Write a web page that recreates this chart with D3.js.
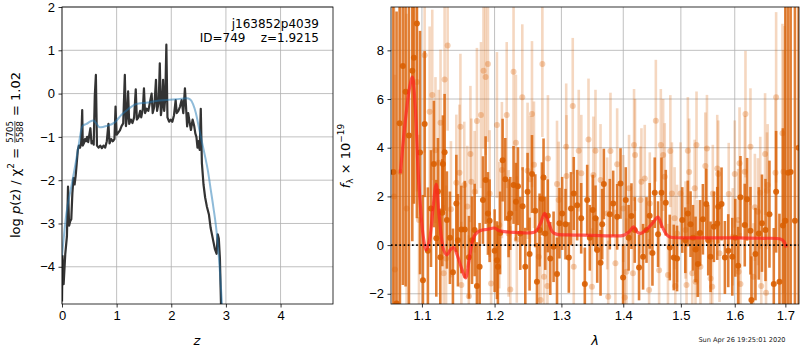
<!DOCTYPE html>
<meta charset="utf-8">
<style>
    body { margin: 0; background: #fff; }
    svg { font-family: "DejaVu Sans", sans-serif; }
    .grid line { stroke: #b0b0b0; stroke-width: 0.8; }
    .axis path { display: none; }
    .axis line { stroke: #000; stroke-width: 0.8; }
    .axis text { font-size: 13px; fill: #000; }
</style>
<title>p(z) and spectrum</title>
<body>
<script src="https://cdn.jsdelivr.net/npm/d3@7"></script>
<script>
// ---- data ----
const zTicks = [0, 1, 2, 3, 4];
const pzTicks = [-4, -3, -2, -1, 0, 1, 2];
const waveTicks = [1.1, 1.2, 1.3, 1.4, 1.5, 1.6, 1.7];
const fluxTicks = [-2, 0, 2, 4, 6, 8];

// log p(z), noisy fit  [z, log p]
const pzFit = [[0.00,-4.80],[0.01,-3.75],[0.03,-4.40],[0.06,-3.70],[0.09,-3.30],[0.11,-2.15],[0.13,-3.05],[0.15,-2.95],[0.17,-2.90],[0.19,-2.30],[0.21,-1.95],[0.23,-2.10],[0.25,-1.90],[0.27,-1.60],[0.29,-1.30],[0.31,-1.20],[0.33,-1.25],[0.35,-1.15],[0.37,-0.38],[0.38,-1.20],[0.40,-1.15],[0.42,-1.05],[0.44,-1.10],[0.46,-1.00],[0.48,-1.12],[0.50,-0.95],[0.52,-0.80],[0.54,-1.15],[0.56,-1.10],[0.58,-1.18],[0.60,-0.05],[0.62,0.43],[0.64,-1.20],[0.67,-1.25],[0.70,-1.20],[0.73,-1.26],[0.76,-1.20],[0.79,-1.25],[0.82,-1.10],[0.85,-0.70],[0.87,-1.15],[0.90,-1.05],[0.93,-1.10],[0.96,-1.05],[0.98,-0.30],[1.00,-0.95],[1.03,-0.90],[1.06,-0.85],[1.09,-0.75],[1.12,-0.69],[1.15,0.43],[1.17,-0.75],[1.19,-0.55],[1.21,0.05],[1.23,-0.70],[1.26,-0.60],[1.29,-0.68],[1.32,-0.55],[1.35,0.10],[1.37,-0.60],[1.40,-0.55],[1.43,-0.40],[1.45,-0.55],[1.48,-0.35],[1.50,0.12],[1.52,-0.45],[1.55,-0.35],[1.58,-0.40],[1.61,-0.20],[1.64,0.00],[1.66,-0.45],[1.69,-0.30],[1.72,0.32],[1.74,-0.40],[1.77,-0.20],[1.79,0.70],[1.81,-0.50],[1.83,-0.30],[1.85,0.32],[1.87,-0.40],[1.89,-0.10],[1.91,1.13],[1.93,-0.55],[1.96,-0.65],[1.99,-0.60],[2.02,-0.65],[2.05,-0.50],[2.08,-0.15],[2.10,-0.45],[2.13,-0.40],[2.16,-0.30],[2.19,-0.15],[2.22,-0.45],[2.25,0.12],[2.27,-0.30],[2.29,-0.76],[2.31,-0.45],[2.34,-0.70],[2.36,-0.84],[2.39,-0.60],[2.42,-0.75],[2.44,-0.92],[2.46,-1.00],[2.48,-1.25],[2.50,-1.10],[2.52,-1.30],[2.54,-0.35],[2.56,-1.60],[2.59,-2.10],[2.62,-2.40],[2.65,-2.60],[2.69,-2.80],[2.72,-3.10],[2.76,-3.35],[2.80,-3.60],[2.83,-3.70],[2.85,-3.25],[2.87,-3.35],[2.89,-3.80],[2.91,-4.86],[2.93,-6.00]];

// smooth p(z) (light blue)  [z, log p]
const pzPrior = [[0.00,-3.75],[0.08,-2.77],[0.17,-2.15],[0.26,-1.53],[0.31,-1.15],[0.35,-0.85],[0.38,-0.74],[0.45,-0.70],[0.51,-0.65],[0.57,-0.62],[0.63,-0.69],[0.69,-0.78],[0.75,-0.77],[0.81,-0.75],[0.96,-0.67],[1.09,-0.49],[1.21,-0.36],[1.36,-0.24],[1.54,-0.21],[1.73,-0.17],[1.91,-0.15],[2.09,-0.13],[2.28,-0.11],[2.35,-0.14],[2.40,-0.25],[2.45,-0.45],[2.50,-0.75],[2.55,-1.05],[2.61,-1.40],[2.67,-1.78],[2.72,-2.20],[2.77,-2.62],[2.83,-3.20],[2.89,-4.10],[2.93,-4.90]];

// spectrum, first set (solid)  [lambda, flux, err]
const darkPoints = [[1.0630,3.0,14],[1.0671,-2.4,12],[1.0710,5.0,10],[1.0752,7.36,9],[1.0787,6.3,8],[1.0830,4.5,9],[1.0874,7.16,7],[1.0895,7.7,6],[1.0934,9.1,8],[1.0975,3.8,5],[1.1013,-1.44,3.5],[1.1036,4.97,3.0],[1.1079,-0.23,2.6],[1.1120,1.5,2.4],[1.1159,3.33,2.6],[1.1191,0.28,2.4],[1.1213,2.2,2.2],[1.1245,-0.5,2.0],[1.1272,1.33,2.2],[1.1280,3.33,2.0],[1.1303,3.81,2.4],[1.1334,1.03,2.0],[1.1375,0.3,1.9],[1.1416,-1.12,1.8],[1.1463,1.71,2.0],[1.1485,0.2,1.9],[1.1532,0.64,1.8],[1.1580,0.64,2.0],[1.1637,-0.5,1.7],[1.1680,0.2,1.8],[1.1717,0.62,1.9],[1.1749,-1.68,1.8],[1.1787,-0.89,1.8],[1.1834,1.85,1.8],[1.1872,2.67,1.8],[1.1905,1.3,1.7],[1.1929,1.0,1.7],[1.2001,-0.23,1.7],[1.2034,-0.62,1.6],[1.2048,-0.89,1.7],[1.2080,0.5,1.7],[1.2116,3.49,1.7],[1.2155,2.7,1.7],[1.2203,1.1,1.6],[1.2228,1.3,1.5],[1.2276,2.47,1.6],[1.2311,1.78,1.6],[1.2341,2.42,1.6],[1.2375,0.48,1.5],[1.2410,1.6,1.6],[1.2450,-0.89,1.6],[1.2484,2.19,1.6],[1.2514,-0.37,1.5],[1.2550,2.92,1.6],[1.2600,1.41,1.5],[1.2625,-1.51,1.6],[1.2665,0.62,1.5],[1.2700,1.9,1.5],[1.2725,2.78,1.6],[1.2751,0.48,1.5],[1.2790,1.2,1.5],[1.2828,-0.55,1.5],[1.2879,-0.07,1.45],[1.2932,-1.19,1.5],[1.2970,0.9,1.45],[1.3012,1.3,1.5],[1.3064,0.86,1.45],[1.3116,-0.51,1.45],[1.3150,1.5,1.5],[1.3194,2.12,1.5],[1.3248,1.64,1.45],[1.3312,1.1,1.45],[1.3370,-1.6,1.5],[1.3408,1.85,1.45],[1.3450,0.3,1.35],[1.3498,1.44,1.45],[1.3542,1.1,1.35],[1.3570,-0.2,1.35],[1.3624,-0.73,1.35],[1.3651,0.86,1.45],[1.3678,2.51,1.45],[1.3776,1.27,1.45],[1.3832,1.71,1.35],[1.3898,1.16,1.35],[1.3954,2.53,1.45],[1.3997,-1.33,1.35],[1.4042,1.85,1.35],[1.4090,0.3,1.35],[1.4138,1.19,1.35],[1.4194,0.62,1.35],[1.4267,-0.92,1.35],[1.4336,-0.48,1.35],[1.4395,0.62,1.35],[1.4450,1.2,1.35],[1.4498,-0.32,1.35],[1.4538,2.15,1.45],[1.4596,0.45,1.35],[1.4656,2.15,1.45],[1.4731,1.74,1.35],[1.4802,-0.1,1.35],[1.4873,-0.51,1.35],[1.4932,-0.55,1.35],[1.5025,1.03,1.35],[1.5080,0.2,1.35],[1.5126,1.3,1.35],[1.5175,0.86,1.35],[1.5220,0.3,1.35],[1.5266,-0.18,1.35],[1.5309,-0.78,1.35],[1.5350,0.5,1.35],[1.5401,1.06,1.45],[1.5463,1.69,1.45],[1.5500,0.2,1.45],[1.5543,-0.48,1.45],[1.5605,0.75,1.45],[1.5668,0.89,1.5],[1.5687,1.57,1.5],[1.5749,1.69,1.5],[1.5812,-0.51,1.5],[1.5876,-0.23,1.5],[1.5953,-0.48,1.6],[1.6010,0.3,1.6],[1.6065,-0.85,1.6],[1.6110,1.96,1.7],[1.6193,0.82,1.7],[1.6239,1.88,1.7],[1.6304,0.59,1.8],[1.6323,-2.26,1.8],[1.6402,-0.37,1.9],[1.6467,0.48,1.9],[1.6530,0.9,2.0],[1.6600,0.62,2.1],[1.6679,1.27,2.2],[1.6766,-1.6,2.3],[1.6813,2.19,2.5],[1.6880,-1.51,2.8],[1.6950,0.8,4],[1.7000,1.0,9],[1.7055,2.97,14],[1.7108,3.0,20],[1.7196,1.0,20],[1.7272,4.0,20]];

// spectrum, second set (faint)  [lambda, flux, err]
const lightPoints = [[1.0640,2.0,9],[1.0650,-1.0,8],[1.0720,3.0,9],[1.0800,1.5,8],[1.0934,6.7,4.5],[1.0961,1.03,3.5],[1.1036,7.8,4.0],[1.1102,5.48,3.5],[1.1137,6.17,3.5],[1.1180,3.9,3.0],[1.1222,3.38,3.0],[1.1248,5.03,3.0],[1.1290,-1.16,2.8],[1.1303,6.8,3.2],[1.1323,-0.55,3.0],[1.1344,8.2,3.5],[1.1389,1.47,2.8],[1.1463,2.56,2.8],[1.1506,2.97,2.8],[1.1519,4.86,3.0],[1.1532,-1.64,2.6],[1.1572,2.47,2.6],[1.1614,1.58,2.5],[1.1636,-2.1,2.5],[1.1658,3.74,2.8],[1.1671,2.6,2.6],[1.1717,2.19,2.5],[1.1749,5.1,3.0],[1.1806,5.34,3.0],[1.1842,7.16,3.2],[1.1872,6.9,3.2],[1.1905,7.44,3.2],[1.1929,2.12,2.6],[1.1950,-1.58,2.6],[1.2034,4.93,3.0],[1.2068,0.82,2.6],[1.2106,3.08,2.8],[1.2176,5.34,3.0],[1.2203,0.48,2.6],[1.2228,-1.82,2.6],[1.2276,7.12,3.2],[1.2311,4.2,2.8],[1.2324,0.23,2.6],[1.2405,6.07,3.0],[1.2484,3.05,2.8],[1.2522,2.7,2.6],[1.2550,5.38,3.0],[1.2580,3.3,2.6],[1.2652,-0.48,2.5],[1.2680,-2.26,2.6],[1.2707,7.44,3.0],[1.2733,-1.3,2.5],[1.2784,-1.68,2.5],[1.2792,3.56,2.6],[1.2932,2.51,2.6],[1.2958,1.85,2.4],[1.3075,4.04,2.6],[1.3080,2.84,2.5],[1.3178,5.71,2.8],[1.3194,-0.89,2.5],[1.3273,3.88,2.5],[1.3314,2.95,2.4],[1.3429,4.34,2.5],[1.3484,-1.71,2.4],[1.3508,2.88,2.4],[1.3542,3.88,2.5],[1.3624,2.67,2.3],[1.3733,1.3,2.3],[1.3750,-2.12,2.3],[1.3787,3.86,2.4],[1.3869,-0.75,2.2],[1.3898,3.32,2.3],[1.4000,1.5,2.2],[1.4025,-2.15,2.2],[1.4053,-1.1,2.2],[1.4097,2.33,2.2],[1.4164,-1.16,2.2],[1.4182,4.11,2.3],[1.4199,3.7,2.3],[1.4291,1.85,2.2],[1.4308,2.6,2.2],[1.4365,2.74,2.2],[1.4440,-1.85,2.1],[1.4452,1.71,2.1],[1.4557,5.11,2.5],[1.4614,-1.03,2.1],[1.4644,4.11,2.3],[1.4685,3.7,2.3],[1.4713,2.81,2.2],[1.4770,-1.23,2.1],[1.4812,3.86,2.3],[1.4840,2.12,2.1],[1.4888,1.1,2.1],[1.4900,-1.68,2.1],[1.4932,0.48,2.0],[1.4994,2.12,2.1],[1.5084,0.62,2.0],[1.5102,-1.64,2.0],[1.5126,3.88,2.2],[1.5150,3.0,2.2],[1.5206,-1.16,2.0],[1.5250,2.33,2.0],[1.5266,-1.51,2.0],[1.5284,4.11,2.2],[1.5296,-0.14,2.0],[1.5356,-0.89,2.0],[1.5446,3.25,2.2],[1.5476,3.97,2.2],[1.5543,-1.37,2.0],[1.5574,-1.71,2.0],[1.5585,2.12,2.0],[1.5668,3.15,2.2],[1.5687,2.92,2.2],[1.5711,-0.34,2.0],[1.5885,2.1,2.1],[1.5962,0.34,2.0],[1.6000,2.92,2.2],[1.6065,1.03,2.1],[1.6075,-1.1,2.1],[1.6092,3.36,2.3],[1.6110,-1.6,2.1],[1.6193,3.01,2.3],[1.6207,5.38,2.6],[1.6304,4.04,2.4],[1.6361,-1.3,2.2],[1.6390,1.55,2.2],[1.6450,1.37,2.2],[1.6496,2.15,2.3],[1.6516,-1.68,2.3],[1.6592,3.74,2.5],[1.6611,-1.96,2.4],[1.6630,2.23,2.4],[1.6643,2.47,2.5],[1.6800,2.97,3.0],[1.6813,6.07,3.5],[1.6941,4.59,4.5],[1.6960,3.01,5],[1.6985,1.0,8]];

// best-fit model  [lambda, flux]
const modelLine = [[1.0720,2.95],[1.0780,5.0],[1.0840,6.5],[1.0875,6.9],[1.0910,5.8],[1.0960,2.5],[1.1020,0.3],[1.1058,-0.2],[1.1100,0.2],[1.1150,1.6],[1.1190,2.5],[1.1230,1.2],[1.1290,-0.2],[1.1334,-0.4],[1.1380,-0.2],[1.1426,-0.1],[1.1480,-0.45],[1.1540,-1.0],[1.1590,-1.35],[1.1640,-0.6],[1.1690,0.2],[1.1730,0.45],[1.1800,0.6],[1.1900,0.65],[1.2000,0.7],[1.2060,0.6],[1.2150,0.55],[1.2300,0.52],[1.2500,0.5],[1.2600,0.55],[1.2680,0.9],[1.2742,1.3],[1.2800,0.95],[1.2860,0.55],[1.2920,0.45],[1.3100,0.42],[1.3500,0.4],[1.3800,0.38],[1.4000,0.4],[1.4100,0.55],[1.4175,0.75],[1.4230,0.55],[1.4290,0.48],[1.4400,0.65],[1.4500,0.9],[1.4595,1.15],[1.4660,0.8],[1.4740,0.45],[1.4800,0.33],[1.5000,0.3],[1.5500,0.3],[1.6000,0.3],[1.6500,0.28],[1.6900,0.25],[1.6970,0.15],[1.7020,-0.1]];

const objName = 'j163852p4039';
const objInfo = 'ID=749    z=1.9215';
const stamp = 'Sun Apr 26 19:25:01 2020';

// ---- drawing ----
const width = 800, height = 350;
const orange = '#d95f02';

const svg = d3.select('body').append('svg')
    .attr('width', width)
    .attr('height', height);

function grid(box, xs, ys, xt, yt) {
    const g = svg.append('g').attr('class', 'grid');
    g.selectAll('.gx').data(xt).enter().append('line')
        .attr('x1', d => xs(d)).attr('x2', d => xs(d))
        .attr('y1', box.top).attr('y2', box.bottom);
    g.selectAll('.gy').data(yt).enter().append('line')
        .attr('x1', box.left).attr('x2', box.right)
        .attr('y1', d => ys(d)).attr('y2', d => ys(d));
}

function axes(box, xs, ys, xt, yt, xfmt) {
    svg.append('g').attr('class', 'axis')
        .attr('transform', `translate(0,${box.bottom})`)
        .call(d3.axisBottom(xs).tickValues(xt).tickFormat(xfmt).tickSize(3.5).tickPadding(3.5));
    svg.append('g').attr('class', 'axis')
        .attr('transform', `translate(${box.left},0)`)
        .call(d3.axisLeft(ys).tickValues(yt).tickFormat(d3.format('d')).tickSize(3.5).tickPadding(3.5));
    svg.append('rect')
        .attr('x', box.left).attr('y', box.top)
        .attr('width', box.right - box.left).attr('height', box.bottom - box.top)
        .attr('fill', 'none').attr('stroke', '#000').attr('stroke-width', 0.8);
}

function clip(id, box) {
    svg.append('clipPath').attr('id', id).append('rect')
        .attr('x', box.left).attr('y', box.top)
        .attr('width', box.right - box.left).attr('height', box.bottom - box.top);
}

// left panel: p(z)
const boxA = {left: 62, right: 333, top: 7, bottom: 304};
const xA = d3.scaleLinear().domain([0, 4.96]).range([boxA.left, boxA.right]);
const yA = d3.scaleLinear().domain([-4.86, 2]).range([boxA.bottom, boxA.top]);
grid(boxA, xA, yA, zTicks, pzTicks);
clip('clipA', boxA);

const plotA = svg.append('g').attr('clip-path', 'url(#clipA)');
plotA.append('path').datum(pzFit)
    .attr('d', d3.line().x(d => xA(d[0])).y(d => yA(d[1])))
    .attr('fill', 'none')
    .attr('stroke', '#333').attr('stroke-width', 2.2).attr('stroke-linejoin', 'round');
plotA.append('path').datum(pzPrior)
    .attr('d', d3.line().x(d => xA(d[0])).y(d => yA(d[1])).curve(d3.curveMonotoneX))
    .attr('fill', 'none')
    .attr('stroke', '#1f77b4').attr('stroke-opacity', 0.5).attr('stroke-width', 2);
axes(boxA, xA, yA, zTicks, pzTicks, d3.format('d'));

svg.append('text').attr('x', 319).attr('y', 28)
    .attr('text-anchor', 'end').attr('font-size', 12).text(objName);
svg.append('text').attr('x', 319).attr('y', 42)
    .attr('text-anchor', 'end').attr('font-size', 12)
    .style('white-space', 'pre').text(objInfo);

// right panel: spectrum
const boxB = {left: 391, right: 799, top: 7, bottom: 304};
const xB = d3.scaleLog().domain([1.06, 1.728]).range([boxB.left, boxB.right]);
const yB = d3.scaleLinear().domain([-2.42, 9.78]).range([boxB.bottom, boxB.top]);
grid(boxB, xB, yB, waveTicks, fluxTicks);
clip('clipB', boxB);

const plotB = svg.append('g').attr('clip-path', 'url(#clipB)');

function errbars(pts, op, mop, r) {
    const g = plotB.append('g');
    g.selectAll('line').data(pts).enter().append('line')
        .attr('x1', d => xB(d[0])).attr('x2', d => xB(d[0]))
        .attr('y1', d => yB(d[1] - d[2])).attr('y2', d => yB(d[1] + d[2]))
        .attr('stroke', orange).attr('stroke-opacity', op).attr('stroke-width', 2.6);
    g.selectAll('circle').data(pts).enter().append('circle')
        .attr('cx', d => xB(d[0])).attr('cy', d => yB(d[1])).attr('r', r)
        .attr('fill', orange).attr('fill-opacity', mop);
}
errbars(lightPoints, 0.25, 0.3, 3);
errbars(darkPoints, 0.8, 0.9, 3);

plotB.append('path').datum(modelLine)
    .attr('d', d3.line().x(d => xB(d[0])).y(d => yB(d[1])).curve(d3.curveCatmullRom))
    .attr('fill', 'none').attr('stroke', '#ff2020').attr('stroke-opacity', 0.7)
    .attr('stroke-width', 3.2).attr('stroke-linejoin', 'round');

plotB.append('line')
    .attr('x1', boxB.left).attr('x2', boxB.right)
    .attr('y1', yB(0)).attr('y2', yB(0))
    .attr('stroke', '#000').attr('stroke-width', 1.6).attr('stroke-dasharray', '1.6,2.6');

axes(boxB, xB, yB, waveTicks, fluxTicks, d3.format('.1f'));

// axis labels
svg.append('text').attr('x', 197).attr('y', 345).attr('text-anchor', 'middle')
    .attr('font-size', 13).attr('font-style', 'italic').text('z');
svg.append('text').attr('x', 595).attr('y', 345).attr('text-anchor', 'middle')
    .attr('font-size', 13).attr('font-style', 'italic').text('λ');

// rotated label made of pieces
function richLabel(cx, cy, parts) {
    const g = svg.append('g').attr('transform', `translate(${cx},${cy}) rotate(-90)`);
    let x = 0;
    const items = [];
    parts.forEach(p => {
        if (p.frac) {
            const num = g.append('text').attr('font-size', p.size).attr('y', -6.5).text(p.frac[0]);
            const den = g.append('text').attr('font-size', p.size).attr('y', 3).text(p.frac[1]);
            const w = Math.max(num.node().getComputedTextLength(), den.node().getComputedTextLength()) + 2;
            const bar = g.append('line').attr('y1', -4.6).attr('y2', -4.6).attr('stroke', '#000').attr('stroke-width', 0.7);
            items.push({x, w, num, den, bar});
            x += w;
        } else {
            const t = g.append('text').attr('font-size', p.size).attr('y', p.dy || 0)
                .style('white-space', 'pre')
                .attr('font-style', p.it ? 'italic' : 'normal').text(p.t);
            const w = t.node().getComputedTextLength();
            items.push({x, w, t});
            x += w;
        }
    });
    const off = -x / 2;
    items.forEach(it => {
        if (it.t) it.t.attr('x', it.x + off);
        else {
            it.num.attr('x', it.x + off + it.w / 2).attr('text-anchor', 'middle');
            it.den.attr('x', it.x + off + it.w / 2).attr('text-anchor', 'middle');
            it.bar.attr('x1', it.x + off + 1).attr('x2', it.x + off + it.w - 1);
        }
    });
}

richLabel(19.5, 155, [
    {t: 'log ', size: 13}, {t: 'p', size: 13, it: true}, {t: '(z) / χ', size: 13},
    {t: '2', size: 9, dy: -5.5}, {t: ' = ', size: 13},
    {frac: ['5705', '5588'], size: 8.5}, {t: ' = 1.02', size: 13}
]);
richLabel(349.5, 156, [
    {t: 'f', size: 13, it: true}, {t: 'λ', size: 9, dy: 3}, {t: ' × 10', size: 13},
    {t: '−19', size: 9, dy: -5.5}
]);

svg.append('text').attr('x', 742).attr('y', 342).attr('text-anchor', 'middle')
    .attr('font-size', 6.6).attr('fill', '#222').text(stamp);
</script>
</body>
